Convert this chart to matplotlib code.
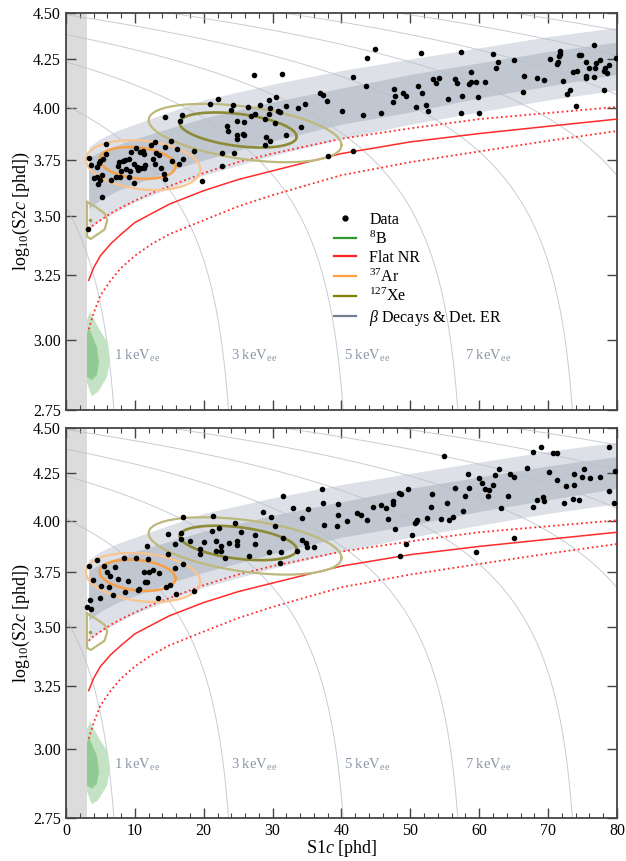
import numpy as np
import matplotlib
matplotlib.use("Agg")
import matplotlib.pyplot as plt
from matplotlib.lines import Line2D
from matplotlib.ticker import FixedLocator, FormatStrFormatter, MultipleLocator, NullLocator

plt.rcParams['font.family'] = ['Liberation Serif', 'DejaVu Serif']
plt.rcParams['mathtext.fontset'] = 'custom'
plt.rcParams['mathtext.rm'] = 'Liberation Serif'
plt.rcParams['mathtext.it'] = 'Liberation Serif:italic'
plt.rcParams['mathtext.bf'] = 'Liberation Serif:bold'

###############################################################################
# Data : S1c [phd] , log10(S2c [phd])
###############################################################################
# top panel
s1_top = [20.9, 14.4, 16.8, 16.6, 5.8, 12.9, 12.3, 14.4, 15.2, 16.1, 18.6, 10.2, 9.4, 11.2, 10.7,
          11.3, 5.8, 13.1, 13.5, 3.3, 4.9, 4.8, 5.4, 8.6, 9.2, 8.3, 7.7, 17.0, 15.4, 12.6, 3.6,
          4.5, 7.6, 8.7, 9.3, 8.0, 9.9, 10.3, 10.6, 10.9, 11.3, 11.5, 10.5, 12.9, 13.8, 16.4,
          5.2, 4.1, 4.5, 4.9, 6.5, 7.3, 7.8, 9.2, 9.9, 14.2, 14.4, 4.65, 19.8, 5.2, 3.2,
          27.3, 31.4, 22.1, 24.3, 24.0, 26.4, 28.2, 29.5, 30.5, 29.6, 30.8, 31.1, 31.9, 33.7,
          34.7, 36.9, 37.3, 37.9, 40.1, 29.5, 27.4, 26.9, 28.9, 30.3, 25.8, 24.8, 23.4, 23.5,
          24.8, 25.7, 25.8, 24.8, 29.0, 29.6, 28.9, 31.9, 34.1, 22.7, 24.4, 22.7, 38.0,
          44.9, 43.7, 51.5, 57.4, 41.7, 43.6, 47.6, 48.9, 49.4, 47.8, 47.5, 51.1, 51.7, 53.3,
          54.2, 53.7, 56.5, 56.8, 58.5, 58.8, 59.5, 58.8, 57.5, 55.5, 59.8, 50.8, 52.3, 52.6,
          43.1, 45.7, 57.4, 60.0, 41.7,
          62.0, 62.7, 62.4, 65.0, 66.5, 68.4, 69.4, 72.2, 70.3, 71.6, 71.7, 71.7, 71.3, 71.4,
          74.5, 74.8, 76.7, 75.5, 77.0, 77.5, 75.9, 76.8, 78.3, 78.8, 78.6, 78.1, 73.6, 74.2,
          75.5, 75.5, 76.7, 79.9, 60.8, 66.4, 73.2, 72.7, 78.1, 74.1]
s2_top = [4.020, 3.955, 3.965, 3.936, 3.825, 3.835, 3.820, 3.811, 3.839, 3.801, 3.792, 3.806, 3.787,
          3.792, 3.787, 3.778, 3.778, 3.783, 3.773, 3.759, 3.745, 3.736, 3.754, 3.750, 3.754,
          3.745, 3.741, 3.754, 3.745, 3.754, 3.727, 3.718, 3.722, 3.708, 3.699, 3.699, 3.731,
          3.718, 3.713, 3.713, 3.713, 3.727, 3.704, 3.731, 3.713, 3.731, 3.681, 3.667, 3.672,
          3.658, 3.658, 3.672, 3.672, 3.672, 3.645, 3.686, 3.663, 3.640, 3.654, 3.582, 3.442,
          4.167, 4.172, 4.045, 4.015, 3.990, 4.005, 4.015, 4.040, 4.055, 4.000, 3.985, 3.980,
          4.010, 4.000, 4.019, 4.075, 4.065, 4.035, 3.985, 3.970, 3.970, 3.960, 3.946, 3.926,
          3.931, 3.936, 3.911, 3.887, 3.868, 3.873, 3.868, 3.849, 3.858, 3.839, 3.820, 3.868,
          3.906, 3.783, 3.783, 3.722, 3.769,
          4.303, 4.256, 4.282, 4.288, 4.157, 4.111, 4.096, 4.075, 4.060, 4.060, 4.030, 4.111,
          4.075, 4.146, 4.151, 4.126, 4.146, 4.126, 4.121, 4.131, 4.131, 4.182, 4.060, 4.045,
          4.055, 4.005, 4.015, 3.985, 3.965, 3.975, 3.975, 3.975, 3.792,
          4.277, 4.235, 4.203, 4.245, 4.162, 4.151, 4.141, 4.136, 4.250, 4.266, 4.293, 4.277,
          4.224, 4.235, 4.271, 4.271, 4.325, 4.235, 4.229, 4.245, 4.203, 4.203, 4.203, 4.219,
          4.177, 4.187, 4.182, 4.187, 4.162, 4.151, 4.157, 4.256, 4.131, 4.080, 4.090, 4.070,
          4.090, 4.010]

# bottom panel
s1_bot = [17.0, 21.3, 14.8, 11.8, 16.7, 16.7, 18.0, 15.8, 20.0, 19.5, 19.5, 14.8, 17.0, 21.2,
          3.3, 4.5, 5.5, 8.4, 10.2, 11.9, 7.1, 6.0, 6.4, 11.3, 12.1, 12.6, 13.5, 7.6, 9.0, 11.5,
          11.8, 15.8, 3.9, 5.1, 6.2, 10.6, 10.5, 8.6, 6.8, 15.1, 14.5, 18.6, 16.0, 4.9, 13.4,
          3.5, 3.1, 3.6,
          31.5, 37.2, 28.6, 29.8, 33.0, 35.1, 34.3, 24.5, 22.2, 25.4, 27.4, 30.3, 37.3, 39.5,
          39.5, 40.8, 39.35, 37.5, 21.8, 23.7, 24.8, 24.8, 22.5, 27.4, 31.5, 34.3, 34.85, 35.0,
          36.0, 21.8, 22.5, 29.5, 31.2, 33.5, 26.6, 23.1, 31.1,
          54.9, 58.4, 56.5, 58.5, 57.9, 48.35, 48.6, 49.7, 47.5, 47.5, 44.6, 45.7, 46.5, 53.1,
          55.3, 53.0, 57.6, 42.25, 42.8, 43.7, 46.75, 51.0, 50.8, 50.7, 52.4, 54.5, 55.6, 56.2,
          47.8, 50.2, 49.4, 48.5, 59.5,
          67.8, 69.0, 70.7, 71.3, 78.8, 66.9, 62.9, 64.5, 65.0, 70.1, 71.3, 73.8, 75.2, 74.9,
          76.1, 77.5, 79.7, 62.3, 60.0, 60.4, 60.8, 61.4, 62.0, 61.3, 64.2, 63.2, 72.6, 73.8,
          78.8, 79.6, 72.3, 73.6, 74.5, 68.4, 69.3, 69.4, 67.8, 65.0]
s2_bot = [4.022, 4.027, 3.937, 3.878, 3.942, 3.912, 3.902, 3.888, 3.897, 3.863, 3.839, 3.839, 3.791,
          3.952, 3.781, 3.810, 3.781, 3.820, 3.820, 3.815, 3.777, 3.753, 3.734, 3.753, 3.753,
          3.762, 3.748, 3.720, 3.711, 3.706, 3.706, 3.772, 3.715, 3.687, 3.683, 3.673, 3.669,
          3.659, 3.645, 3.692, 3.683, 3.664, 3.650, 3.632, 3.632, 3.622, 3.591, 3.582,
          4.130, 4.167, 4.047, 4.022, 4.068, 4.063, 4.017, 3.992, 3.967, 3.947, 3.932, 3.977,
          4.094, 4.089, 4.032, 4.002, 3.977, 3.982, 3.902, 3.892, 3.902, 3.883, 3.878, 3.888,
          3.917, 3.907, 3.892, 3.873, 3.873, 3.853, 3.853, 3.848, 3.848, 3.853, 3.829, 3.820,
          3.796,
          4.344, 4.246, 4.172, 4.172, 4.130, 4.146, 4.141, 4.167, 4.104, 4.089, 4.073, 4.083,
          4.068, 4.141, 4.094, 4.073, 4.053, 4.042, 4.032, 4.007, 4.012, 4.007, 3.997, 3.992,
          4.017, 4.012, 4.007, 4.022, 3.962, 3.932, 3.888, 3.829, 3.848,
          4.366, 4.393, 4.360, 4.360, 4.393, 4.279, 4.273, 4.246, 4.230, 4.257, 4.214, 4.246,
          4.273, 4.230, 4.225, 4.230, 4.262, 4.241, 4.225, 4.198, 4.167, 4.162, 4.188, 4.130,
          4.130, 4.068, 4.183, 4.188, 4.156, 4.094, 4.094, 4.114, 4.109, 4.109, 4.125, 4.104,
          4.073, 3.917]

# ER band (beta decays & detector ER): 1 and 2 sigma edges
band_s1 = [3.3, 5, 7.5, 10, 15, 20, 30, 40, 50, 60, 70, 80]
band_out_hi = [3.81, 3.85, 3.89, 3.92, 3.98, 4.04, 4.12, 4.19, 4.25, 4.31, 4.37, 4.42]
band_in_hi = [3.76, 3.79, 3.82, 3.85, 3.90, 3.95, 4.03, 4.10, 4.17, 4.23, 4.29, 4.34]
band_in_lo = [3.53, 3.57, 3.61, 3.64, 3.70, 3.75, 3.84, 3.92, 3.98, 4.05, 4.11, 4.17]
band_out_lo = [3.44, 3.48, 3.52, 3.56, 3.62, 3.68, 3.77, 3.85, 3.92, 3.98, 4.04, 4.09]

# flat NR band: median and 10-90%
nr_s1 = [3.3, 4, 5, 6.5, 8, 10, 12.5, 15, 20, 25, 30, 35, 40, 50, 60, 70, 80]
nr_med = [3.23, 3.28, 3.33, 3.38, 3.42, 3.47, 3.51, 3.55, 3.61, 3.66, 3.70, 3.74, 3.78, 3.835,
          3.875, 3.91, 3.945]
nr_hi = [3.44, 3.46, 3.48, 3.51, 3.535, 3.565, 3.60, 3.63, 3.69, 3.74, 3.78, 3.815, 3.85, 3.90,
         3.945, 3.975, 4.005]
nr_lo = [3.04, 3.10, 3.17, 3.23, 3.28, 3.33, 3.38, 3.42, 3.48, 3.54, 3.59, 3.635, 3.68, 3.74,
         3.79, 3.84, 3.887]

# 37Ar and 127Xe contours : centre S1, half width S1, centre log S2, half height, tilt
ar_in = (10.4, 5.5, 3.737, 0.072, -0.016)
ar_out = (11.2, 8.3, 3.728, 0.113, -0.023)
xe_in = (25.0, 8.5, 3.893, 0.078, -0.033)
xe_out = (26.0, 14.0, 3.880, 0.127, -0.060)
# small 127Xe contour near threshold
xe_small_s1 = [3.05, 4.2, 5.6, 6.0, 5.6, 4.6, 3.6, 3.05, 3.05]
xe_small_s2 = [3.56, 3.54, 3.51, 3.48, 3.44, 3.42, 3.40, 3.41, 3.56]

# 8B filled contours
b8_out_s1 = [3.5, 4.9, 6.1, 6.4, 5.95, 4.65, 3.75, 3.05, 3.05]
b8_out_s2 = [3.105, 3.037, 2.988, 2.926, 2.865, 2.812, 2.798, 2.844, 3.075]
b8_in_s1 = [3.34, 4.5, 4.8, 4.5, 3.77, 3.05, 3.05]
b8_in_s2 = [3.044, 2.974, 2.915, 2.872, 2.854, 2.865, 3.025]

# energy contours (keVee) and their labels
energies = [1, 3, 5, 7, 9, 11, 13, 15, 17, 19]
label_energies = [1, 3, 5, 7]
label_s1 = [7.0, 23.9, 40.4, 58.0]
label_s2 = 2.94
W, g1, g2 = 0.0137, 0.114, 47.1

threshold = 3.0
yticks = [2.75, 3.00, 3.25, 3.50, 3.75, 4.00, 4.25, 4.50]

c_er_out = '#dde1e7'
c_er_in = '#c1c7d0'
c_arc = '#b9c0cb'
c_ar_in, c_ar_out = '#f5a04a', '#fac48e'
c_xe_in, c_xe_out = '#8d8b35', '#bdb97c'


def ellipse(p):
    c1, a, c2, b, s = p
    t = np.linspace(0, 2 * np.pi, 200)
    return c1 + a * np.cos(t), c2 + b * np.sin(t) + s * np.cos(t)


def draw_panel(ax, s1, s2, xlabels):
    ax.axvspan(0, threshold, color='#dcdcdc', lw=0, zorder=0)
    # ER band
    ax.fill_between(band_s1, band_out_lo, band_out_hi, color=c_er_out, lw=0, zorder=1)
    ax.fill_between(band_s1, band_in_lo, band_in_hi, color=c_er_in, lw=0, zorder=1)
    # energy arcs
    for E in energies:
        x = np.linspace(0, g1 * E / W, 600)
        S2 = g2 * (E / W - x / g1)
        m = S2 > 300
        ax.plot(x[m], np.log10(S2[m]), color=c_arc, lw=0.7, alpha=0.8, zorder=2)
    for E, xs in zip(label_energies, label_s1):
        ax.text(xs, label_s2, '%d keV$_{\\rm ee}$' % E, color='#8c97a8', fontsize=10.5,
                va='center', ha='left', zorder=3)
    # 8B
    ax.fill(b8_out_s1, b8_out_s2, color='#c4e3c4', lw=0, zorder=3)
    ax.fill(b8_in_s1, b8_in_s2, color='#93c993', lw=0, zorder=3)
    # flat NR
    ax.plot(nr_s1, nr_med, color='#ff2a2a', lw=1.1, zorder=4)
    ax.plot(nr_s1, nr_hi, color='#ff2a2a', lw=1.3, ls=(0, (1, 1.6)), zorder=4)
    ax.plot(nr_s1, nr_lo, color='#ff2a2a', lw=1.3, ls=(0, (1, 1.6)), zorder=4)
    # 37Ar, 127Xe
    for p, c, lw in [(ar_out, c_ar_out, 1.6), (ar_in, c_ar_in, 1.9),
                     (xe_out, c_xe_out, 1.6), (xe_in, c_xe_in, 1.9)]:
        x, y = ellipse(p)
        ax.plot(x, y, color=c, lw=lw, zorder=4)
    ax.plot(xe_small_s1, xe_small_s2, color=c_xe_out, lw=1.6, zorder=4)
    ax.plot([3.5], [3.48], 'o', color='#9a9a3a', ms=1.5, zorder=4)
    # data
    ax.plot(s1, s2, 'o', color='k', ms=3, zorder=6)

    ax.set_xlim(0, 80)
    ax.set_yscale('log')
    ax.set_ylim(2.75, 4.5)
    ax.yaxis.set_major_locator(FixedLocator(yticks))
    ax.yaxis.set_major_formatter(FormatStrFormatter('%.2f'))
    ax.yaxis.set_minor_locator(NullLocator())
    ax.xaxis.set_major_locator(MultipleLocator(10))
    ax.xaxis.set_minor_locator(MultipleLocator(2))
    ax.tick_params(which='both', direction='in', top=True, right=True, labelsize=11.5,
                   color='#444444')
    ax.tick_params(which='major', length=7, width=1.0)
    ax.tick_params(which='minor', length=3.5, width=0.8)
    for sp in ax.spines.values():
        sp.set_color('#444444')
        sp.set_linewidth(1.3)
    ax.set_ylabel('log$_{10}$(S2$c$ [phd])', fontsize=13, labelpad=1)
    if xlabels:
        ax.set_xlabel('S1$c$ [phd]', fontsize=13, labelpad=-1)
    else:
        ax.tick_params(labelbottom=False)


fig = plt.figure(figsize=(6.26, 8.61), dpi=100)
ax1 = fig.add_axes([0.1054, 0.5238, 0.8802, 0.4611])
ax2 = fig.add_axes([0.1054, 0.0499, 0.8802, 0.4530])

draw_panel(ax1, s1_top, s2_top, False)
draw_panel(ax2, s1_bot, s2_bot, True)

handles = [Line2D([], [], marker='o', color='k', ls='none', ms=3.5),
           Line2D([], [], color='#2e9a2e', lw=1.6),
           Line2D([], [], color='#ff2020', lw=1.6),
           Line2D([], [], color='#ffa040', lw=1.6),
           Line2D([], [], color='#7f7f00', lw=1.6),
           Line2D([], [], color='#708090', lw=1.6)]
labels = ['Data', '$^{8}$B', 'Flat NR', '$^{37}$Ar', '$^{127}$Xe', '$\\beta$ Decays & Det. ER']
ax1.legend(handles, labels, loc='upper left', bbox_to_anchor=(0.475, 0.515), frameon=False,
           fontsize=11.5, handlelength=1.4, handletextpad=0.8, labelspacing=0.15,
           borderaxespad=0)

fig.savefig('out.png', dpi=100)
